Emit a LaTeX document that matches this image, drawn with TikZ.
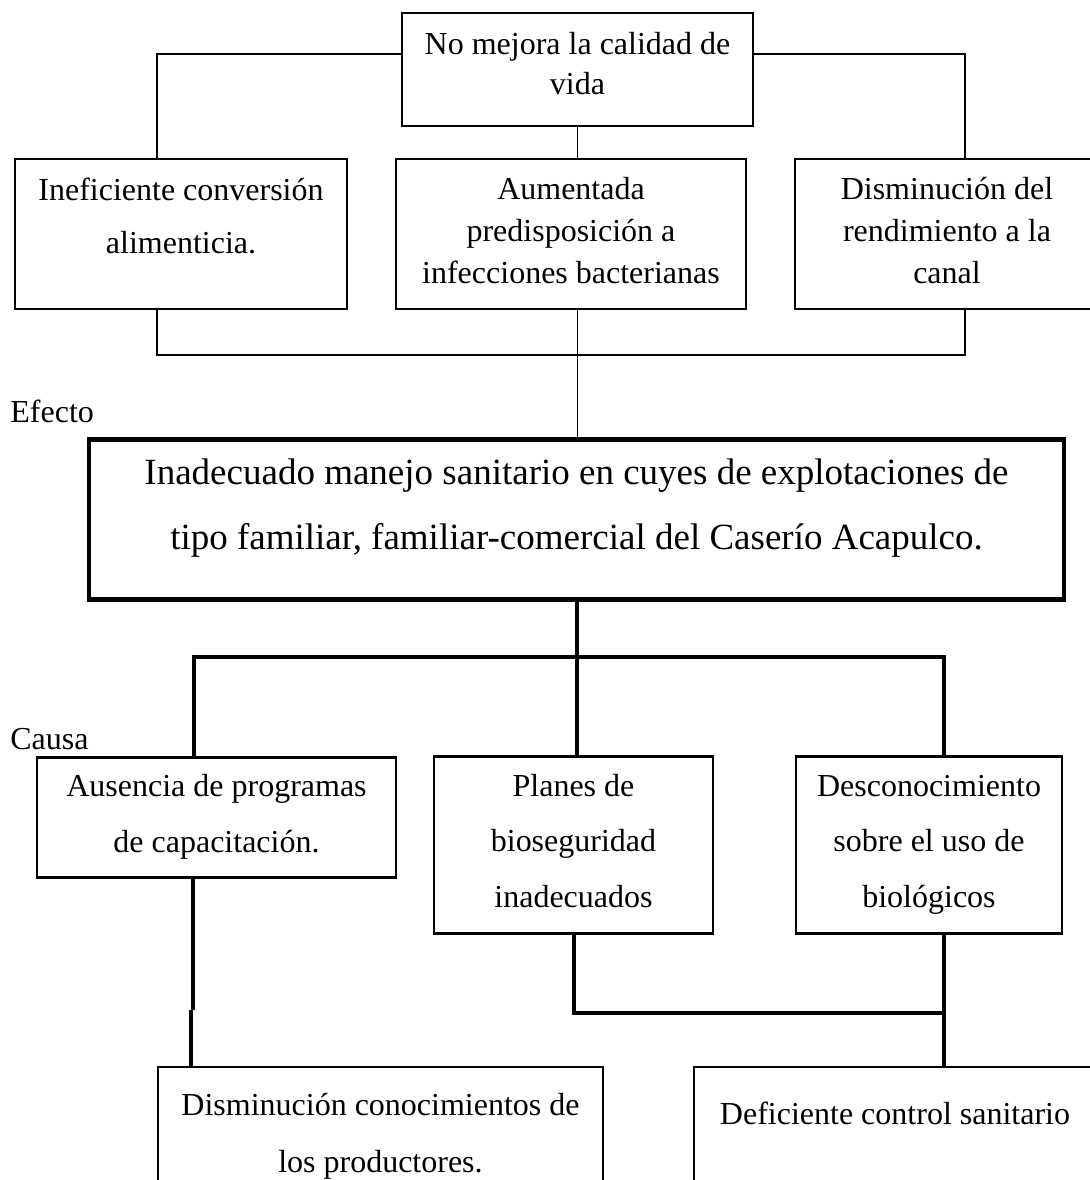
\documentclass[tikz,border=0pt]{standalone}
\usepackage{fontspec}
\setmainfont{Liberation Serif}

\begin{document}
\begin{tikzpicture}[x=0.5pt,y=-0.5pt,
    efbox/.style={draw, line width=1.15pt, inner sep=0pt, anchor=north, align=center, font=\fontsize{16}{21}\selectfont},
    mainbox/.style={efbox, line width=2.3pt, font=\fontsize{18.5}{32.5}\selectfont},
    cabox/.style={efbox, line width=1.3pt, font=\fontsize{16}{27.75}\selectfont},
    tag/.style={anchor=base west, inner sep=0pt, font=\fontsize{16}{20}\selectfont},
    thinline/.style={line width=0.85pt},
    thickline/.style={line width=2pt}]
     \useasboundingbox (0,0) rectangle (1089,1180);

     \path (577.5,12) node[efbox, minimum width=175.5pt, text height=40.5pt, text depth=16pt] (vida) {No mejora la calidad de\\[-1pt]vida};

     \path (181,158) node[efbox, minimum width=166pt, text height=47pt, text depth=28pt] (inef) {Ineficiente conversión\\[5.5pt]alimenticia.};
     \path (571,158) node[efbox, minimum width=175pt, text height=62pt, text depth=13pt] (aum) {Aumentada\\predisposición a\\infecciones bacterianas};
     \path (947,158) node[efbox, minimum width=152pt, text height=62pt, text depth=13pt] (dism) {Disminución del\\rendimiento a la\\canal};

     \path (10,422) node[tag] (efecto) {Efecto};
     \path (576.5,437) node[mainbox, minimum width=487.5pt, text height=55pt, text depth=25pt] (main) {Inadecuado manejo sanitario en cuyes de explotaciones de\\tipo familiar, familiar-comercial del Caserío Acapulco.};

     \path (10,749) node[tag] (causa) {Causa};
     \path (216.5,756) node[cabox, minimum width=179.5pt, text height=47.5pt, text depth=12.5pt] (aus) {Ausencia de programas\\de capacitación.};
     \path (573.5,755) node[cabox, minimum width=139.5pt, text height=75.5pt, text depth=13pt] (planes) {Planes de\\bioseguridad\\inadecuados};
     \path (929,755) node[cabox, minimum width=133pt, text height=75.5pt, text depth=13pt] (desc) {Desconocimiento\\sobre el uso de\\biológicos};

     \path (380.5,1066) node[cabox, line width=1pt, minimum width=222.5pt, text height=52.5pt, text depth=20pt] (bajo) {Disminución conocimientos de\\[0.75pt]los productores.};
     \path (895,1066) node[cabox, line width=1pt, minimum width=201pt, text height=28.5pt, text depth=40pt] (defi) {Deficiente control sanitario};

     \draw[thinline] ([yshift=7.75pt]vida.west) -| ([xshift=-12pt]inef.north);
     \draw[thinline] ([yshift=7.75pt]vida.east) -| ([xshift=9pt]dism.north);
     \draw[thinline] (vida.south) -- (vida.south |- aum.north);
     \draw[thinline] ([xshift=-12pt]inef.south) -- ++(0,45) -| ([xshift=9pt]dism.south);
     \draw[thinline] (vida.south |- aum.south) -- (vida.south |- main.north);

     \draw[thickline] (main.south) -- ++(0,55) coordinate (hub);
     \draw[thickline] ([xshift=-11.25pt]aus.north) |- (hub) -| ([xshift=7.5pt]desc.north);
     \draw[thickline] (hub) -- (hub |- planes.north);
     \draw[thickline] ([xshift=-11.75pt]aus.south) -- ++(0,131);
     \draw[thickline] ([xshift=-12.75pt]aus.south |- bajo.north) -- ++(0,-56);
     \draw[thickline] (planes.south) -- ++(0,78) -| ([xshift=7.5pt]desc.south);
     \draw[thickline] ([xshift=7.5pt]desc.south) -- ([xshift=7.5pt]desc.south |- defi.north);

   \end{tikzpicture}
\end{document}
